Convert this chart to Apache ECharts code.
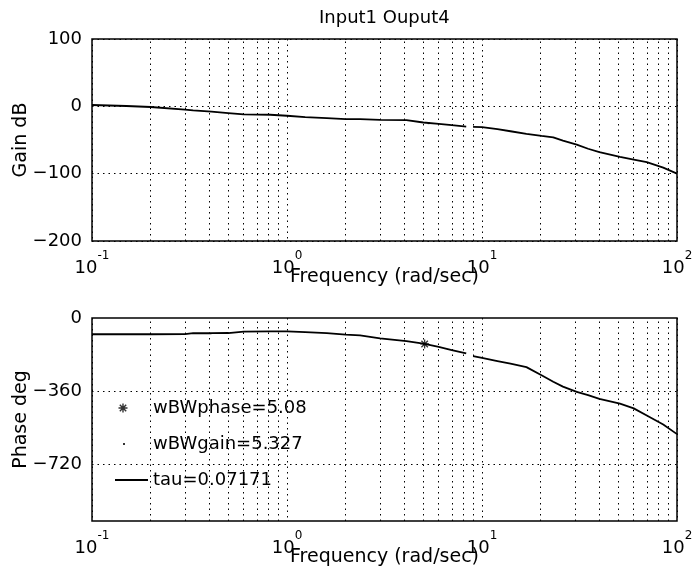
<!DOCTYPE html>
<html><head><meta charset="utf-8">
<script src="https://cdn.jsdelivr.net/npm/echarts@6/dist/echarts.min.js"></script>
<style>html,body{margin:0;padding:0;background:#fff}#c{width:692px;height:577px}</style>
</head><body><div id="c"></div>
<script>
// ---- data ----
const freq = [0.1, 0.15, 0.2, 0.3, 0.33, 0.41, 0.5, 0.6, 0.82, 1.0, 1.24, 1.6, 2.0, 2.37, 3.0, 4.1, 5.0, 6.0, 7.0, 8.3, 8.6, 9.0, 10, 12, 14, 16.9, 20.2, 23.2, 26, 30.6, 35, 40, 51, 60, 70, 85, 100];
const gainDb = [2, 0.5, -1, -5, -6, -8, -10, -12, -12.5, -14, -16, -17.5, -19, -19, -20, -20.5, -24, -26, -28, -30, null, -30.5, -31, -34, -37, -41, -44, -46, -51, -57, -63, -68, -75, -79, -83, -91, -100];
const phaseDeg = [-80, -80, -80, -79, -75, -75, -74, -67, -66, -66, -70, -75, -82, -86, -100, -114, -126, -142, -158, -174, null, -188, -197, -212, -225, -242, -282, -314, -338, -364, -380, -398, -422, -445, -480, -525, -572];
const wBWphasePoint = [5.08, -128];
const wBWgainPoint = [5.327, -25];
const seriesNames = ['wBWphase=5.08', 'wBWgain=5.327', 'tau=0.07171'];
const titleText = 'Input1 Ouput4';
const freqTickExps = [-1, 0, 1, 2];
const minorGridFreqs = [0.2, 0.3, 0.4, 0.5, 0.6, 0.7, 0.8, 0.9, 2, 3, 4, 5, 6, 7, 8, 9, 20, 30, 40, 50, 60, 70, 80, 90];
const gainTicks = [100, 0, -100, -200];
const gainTickLabels = ['100', '0', '\u2212100', '\u2212200'];
const phaseTicks = [0, -360, -720];
const phaseTickLabels = ['0', '\u2212360', '\u2212720'];

// ---- styling ----
const FONT = 'DejaVu Sans';
const dotted = { color: '#000', type: [1.5, 4], width: 1 };
const starPath = 'path://M0 4.3 L10 4.3 L10 5.7 L0 5.7 Z M4.3 0 L5.7 0 L5.7 10 L4.3 10 Z M0.9 1.9 L1.9 0.9 L9.1 8.1 L8.1 9.1 Z M8.1 0.9 L9.1 1.9 L1.9 9.1 L0.9 8.1 Z';
const legStar = 'path://M0 0 M33 10 M3.5 4.3 L12.5 4.3 L12.5 5.7 L3.5 5.7 Z M7.3 0.5 L8.7 0.5 L8.7 9.5 L7.3 9.5 Z M4.3 2.3 L5.3 1.3 L11.7 7.7 L10.7 8.7 Z M10.7 1.3 L11.7 2.3 L5.3 8.7 L4.3 7.7 Z';
const legDot = 'path://M0 0 M33 10 M8 4 L10 4 L10 6 L8 6 Z';
const legLine = 'path://M0 0 M33 10 M0 4.1 L33 4.1 L33 5.9 L0 5.9 Z';

function pairs(xs, ys) { return xs.map((x, i) => [x, ys[i] == null ? '-' : ys[i]]); }

function xAxisCfg(gi) {
  return {
    type: 'log', logBase: 10, min: 0.1, max: 100, gridIndex: gi,
    axisLine: { show: false }, axisTick: { show: false },
    splitLine: { show: true, lineStyle: dotted },
    axisLabel: {
      margin: 9,
      formatter: v => { const e = Math.round(Math.log10(v)); return freqTickExps.includes(e) ? '{b|10}{s|' + e + '}' : ''; },
      rich: {
        b: { fontSize: 18, lineHeight: 37, fontFamily: FONT, color: '#000' },
        s: { fontSize: 12, lineHeight: 12, verticalAlign: 'top', fontFamily: FONT, color: '#000' }
      }
    },
    name: 'Frequency (rad/sec)', nameLocation: 'middle', nameGap: 27, nameMoveOverlap: false,
    nameTextStyle: { fontSize: 19, fontFamily: FONT, color: '#000' }
  };
}
function markLines(extra) {
  return {
    silent: true, symbol: ['none', 'none'], label: { show: false },
    emphasis: { disabled: true }, lineStyle: dotted, animation: false,
    data: minorGridFreqs.map(f => ({ xAxis: f })).concat(extra || [])
  };
}

const chart = echarts.init(document.getElementById('c'), null, { renderer: 'canvas' });
chart.setOption({
  animation: false,
  backgroundColor: '#fff',
  title: { text: titleText, left: 319, top: 9, padding: 0, textStyle: { fontSize: 18, fontWeight: 'normal', fontFamily: FONT, color: '#000' } },
  grid: [
    { left: 92, top: 39, width: 585, height: 202, show: true, borderColor: '#000', borderWidth: 1.5, backgroundColor: 'transparent', containLabel: false, outerBoundsMode: 'none' },
    { left: 92, top: 318, width: 585, height: 203, show: true, borderColor: '#000', borderWidth: 1.5, backgroundColor: 'transparent', containLabel: false, outerBoundsMode: 'none' }
  ],
  xAxis: [xAxisCfg(0), xAxisCfg(1)],
  yAxis: [
    {
      gridIndex: 0, type: 'value', min: -200, max: 100, interval: 100,
      axisLine: { show: false }, axisTick: { show: false },
      splitLine: { show: true, lineStyle: dotted },
      axisLabel: { margin: 10, fontSize: 18, fontFamily: FONT, color: '#000',
        formatter: v => { const i = gainTicks.indexOf(Math.round(v)); return i >= 0 ? gainTickLabels[i] : ''; } },
      name: 'Gain dB', nameLocation: 'middle', nameGap: 61, nameMoveOverlap: false,
      nameTextStyle: { fontSize: 19, fontFamily: FONT, color: '#000' }
    },
    {
      gridIndex: 1, type: 'value', min: -1000, max: 0, interval: 40,
      axisLine: { show: false }, axisTick: { show: false },
      splitLine: { show: false },
      axisLabel: { margin: 10, fontSize: 18, fontFamily: FONT, color: '#000',
        formatter: v => { const i = phaseTicks.indexOf(Math.round(v)); return i >= 0 ? phaseTickLabels[i] : ''; } },
      name: 'Phase deg', nameLocation: 'middle', nameGap: 61, nameMoveOverlap: false,
      nameTextStyle: { fontSize: 19, fontFamily: FONT, color: '#000' }
    }
  ],
  legend: {
    orient: 'vertical', left: 115, top: 398, padding: 0, itemGap: 16,
    itemWidth: 33, itemHeight: 10, selectedMode: false,
    textStyle: { fontSize: 18, fontFamily: FONT, color: '#000', lineHeight: 20 },
    data: [
      { name: seriesNames[0], icon: legStar },
      { name: seriesNames[1], icon: legDot },
      { name: seriesNames[2], icon: legLine }
    ]
  },
  series: [
    {
      type: 'line', name: seriesNames[2], xAxisIndex: 0, yAxisIndex: 0,
      data: pairs(freq, gainDb), symbol: 'none', connectNulls: false,
      lineStyle: { color: '#000', width: 1.8 }, itemStyle: { color: '#000' },
      markLine: markLines()
    },
    {
      type: 'line', name: seriesNames[2], xAxisIndex: 1, yAxisIndex: 1,
      data: pairs(freq, phaseDeg), symbol: 'none', connectNulls: false,
      lineStyle: { color: '#000', width: 1.8 }, itemStyle: { color: '#000' },
      markLine: markLines(phaseTicks.filter(t => t !== 0).map(t => ({ yAxis: t })))
    },
    {
      type: 'scatter', name: seriesNames[0], xAxisIndex: 1, yAxisIndex: 1,
      data: [wBWphasePoint], symbol: starPath, symbolSize: 9,
      itemStyle: { color: '#000' }, z: 5
    },
    {
      type: 'scatter', name: seriesNames[1], xAxisIndex: 0, yAxisIndex: 0,
      data: [wBWgainPoint], symbol: 'rect', symbolSize: 2,
      itemStyle: { color: '#000' }, z: 5
    }
  ]
});
</script>
</body></html>
